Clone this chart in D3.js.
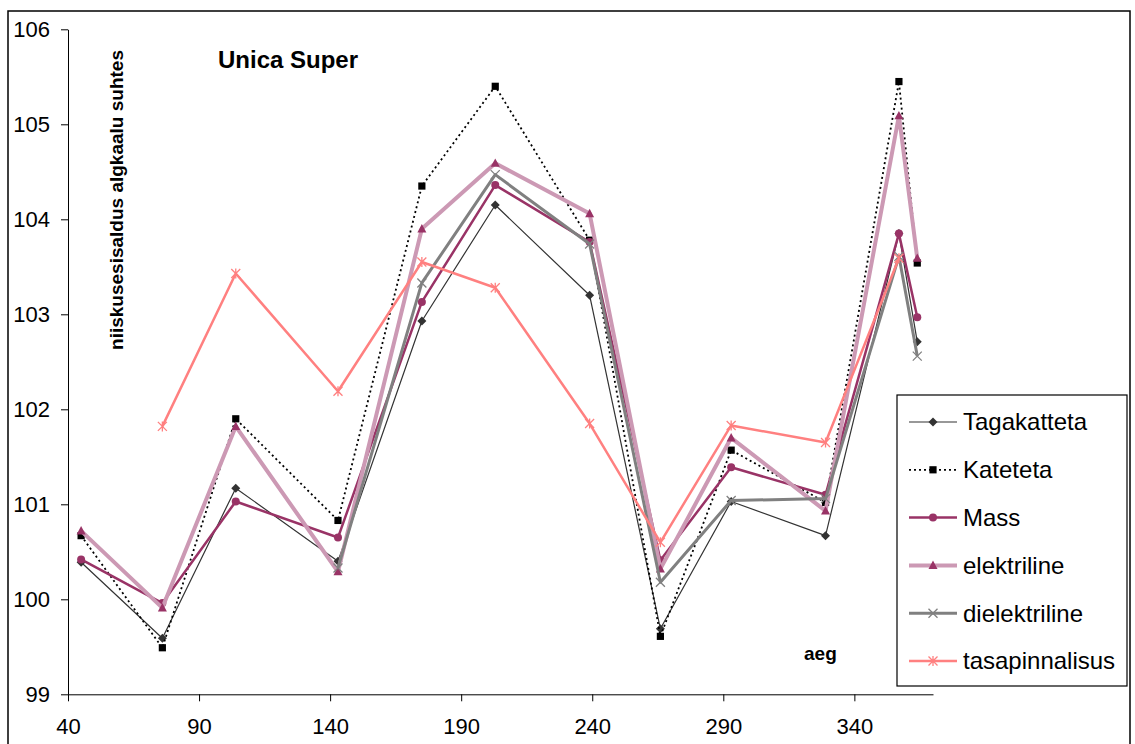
<!DOCTYPE html>
<html>
<head>
<meta charset="utf-8">
<script src="https://cdn.jsdelivr.net/npm/d3@7"></script>
<style>
  body { margin: 0; background: #fff; }
  svg { display: block; font-family: "Liberation Sans", Arial, sans-serif; }
</style>
</head>
<body>
<svg id="chart" width="1135" height="744"></svg>
<script>
// x positions (aeg)
const xValues = [45, 76, 104, 143, 175, 203, 239, 266, 293, 329, 357, 364];

const tagakatteta   = [100.39, 99.59, 101.17, 100.40, 102.93, 104.15, 103.20, 99.69, 101.03, 100.67, 103.85, 102.71];
const kateteta      = [100.67, 99.49, 101.90, 100.83, 104.35, 105.40, 103.78, 99.61, 101.57, 101.02, 105.45, 103.54];
const mass          = [100.42, 99.96, 101.03, 100.65, 103.13, 104.36, 103.76, 100.41, 101.39, 101.10, 103.85, 102.97];
const elektriline   = [100.72, 99.91, 101.82, 100.29, 103.90, 104.59, 104.06, 100.32, 101.70, 100.93, 105.09, 103.59];
const dielektriline = [null, null, null, 100.33, 103.33, 104.47, 103.74, 100.18, 101.04, 101.06, 103.61, 102.56];
const tasapinnalisus = [null, 101.82, 103.43, 102.19, 103.55, 103.28, 101.85, 100.60, 101.83, 101.65, 103.59, null];

const seriesNames = ["Tagakatteta", "Kateteta", "Mass", "elektriline", "dielektriline", "tasapinnalisus"];
const xTicks = [40, 90, 140, 190, 240, 290, 340];
const yTicks = [99, 100, 101, 102, 103, 104, 105, 106];

const series = [
  {name: seriesNames[0], values: tagakatteta, stroke: "#333333", width: 1.2, dash: null, marker: "diamond", mfill: "#333333"},
  {name: seriesNames[1], values: kateteta, stroke: "#000000", width: 1.8, dash: "2,3", marker: "square", mfill: "#000000"},
  {name: seriesNames[2], values: mass, stroke: "#993366", width: 2.5, dash: null, marker: "circle", mfill: "#993366"},
  {name: seriesNames[3], values: elektriline, stroke: "#CC99B4", width: 4, dash: null, marker: "triangle", mfill: "#993366"},
  {name: seriesNames[4], values: dielektriline, stroke: "#808080", width: 3, dash: null, marker: "x", mfill: "#808080"},
  {name: seriesNames[5], values: tasapinnalisus, stroke: "#FF8080", width: 2.5, dash: null, marker: "star", mfill: "#FF8080"}
];

const svg = d3.select("#chart");

// outer frame
svg.append("rect")
  .attr("x", 8).attr("y", 11)
  .attr("width", 1122).attr("height", 760)
  .attr("fill", "none").attr("stroke", "#000").attr("stroke-width", 1.5);

const x = d3.scaleLinear().domain([40, 370]).range([68, 933]);
const y = d3.scaleLinear().domain([99, 106]).range([694.3, 29.3]);

// axes
const yAxis = svg.append("g")
  .attr("transform", "translate(68,0)")
  .call(d3.axisLeft(y).tickValues(yTicks).tickSize(7).tickSizeOuter(0).tickPadding(11).tickFormat(d3.format("d")));
const xAxis = svg.append("g")
  .attr("transform", `translate(0,${y(99)})`)
  .call(d3.axisBottom(x).tickValues(xTicks).tickSize(7).tickSizeOuter(0).tickPadding(17).tickFormat(d3.format("d")));

[yAxis, xAxis].forEach(g => {
  g.selectAll("text").attr("font-size", 22).attr("fill", "#000").attr("font-family", "Liberation Sans, Arial, sans-serif");
  g.selectAll("line").attr("stroke", "#000");
  g.select(".domain").attr("stroke", "#000");
});

// titles
svg.append("text")
  .attr("x", 218).attr("y", 68)
  .attr("font-size", 24).attr("font-weight", "bold")
  .text("Unica Super");

svg.append("text")
  .attr("transform", "translate(123,200) rotate(-90)")
  .attr("text-anchor", "middle")
  .attr("font-size", 19).attr("font-weight", "bold")
  .text("niiskusesisaldus algkaalu suhtes");

svg.append("text")
  .attr("x", 804).attr("y", 660)
  .attr("font-size", 19).attr("font-weight", "bold")
  .text("aeg");

// marker shapes
function markerPath(type) {
  switch (type) {
    case "diamond": return "M0,-4.5L4.5,0L0,4.5L-4.5,0Z";
    case "square": return "M-3.6,-3.6H3.6V3.6H-3.6Z";
    case "triangle": return "M0,-4.8L4.5,3.6H-4.5Z";
    case "x": return "M-4.5,-4.5L4.5,4.5M-4.5,4.5L4.5,-4.5";
    case "star": return "M-4.5,-4.5L4.5,4.5M-4.5,4.5L4.5,-4.5M0,-5V5";
  }
  return null;
}

function drawMarker(g, s, cx, cy) {
  if (s.marker === "circle") {
    g.append("circle").attr("cx", cx).attr("cy", cy).attr("r", 4).attr("fill", s.mfill);
  } else if (s.marker === "x" || s.marker === "star") {
    g.append("path").attr("transform", `translate(${cx},${cy})`)
      .attr("d", markerPath(s.marker)).attr("fill", "none")
      .attr("stroke", s.mfill).attr("stroke-width", 1.3);
  } else {
    g.append("path").attr("transform", `translate(${cx},${cy})`)
      .attr("d", markerPath(s.marker)).attr("fill", s.mfill);
  }
}

const line = d3.line()
  .defined(d => d.v !== null)
  .x(d => x(d.x))
  .y(d => y(d.v));

series.forEach(s => {
  const pts = xValues.map((xv, i) => ({x: xv, v: s.values[i]}));
  const g = svg.append("g");
  g.append("path")
    .datum(pts)
    .attr("d", line)
    .attr("fill", "none")
    .attr("stroke", s.stroke)
    .attr("stroke-width", s.width)
    .attr("stroke-dasharray", s.dash)
    .attr("stroke-linejoin", "round");
  pts.filter(p => p.v !== null).forEach(p => drawMarker(g, s, x(p.x), y(p.v)));
});

// legend
const legend = svg.append("g");
legend.append("rect")
  .attr("x", 897).attr("y", 395).attr("width", 230).attr("height", 291)
  .attr("fill", "#fff").attr("stroke", "#000").attr("stroke-width", 1.2);

series.forEach((s, i) => {
  const ly = 422 + i * 47.8;
  legend.append("line")
    .attr("x1", 909).attr("x2", 957).attr("y1", ly).attr("y2", ly)
    .attr("stroke", s.stroke).attr("stroke-width", s.width)
    .attr("stroke-dasharray", s.dash);
  drawMarker(legend, s, 933, ly);
  legend.append("text")
    .attr("x", 963).attr("y", ly).attr("dy", "0.35em")
    .attr("font-size", 24)
    .text(s.name);
});
</script>
</body>
</html>
